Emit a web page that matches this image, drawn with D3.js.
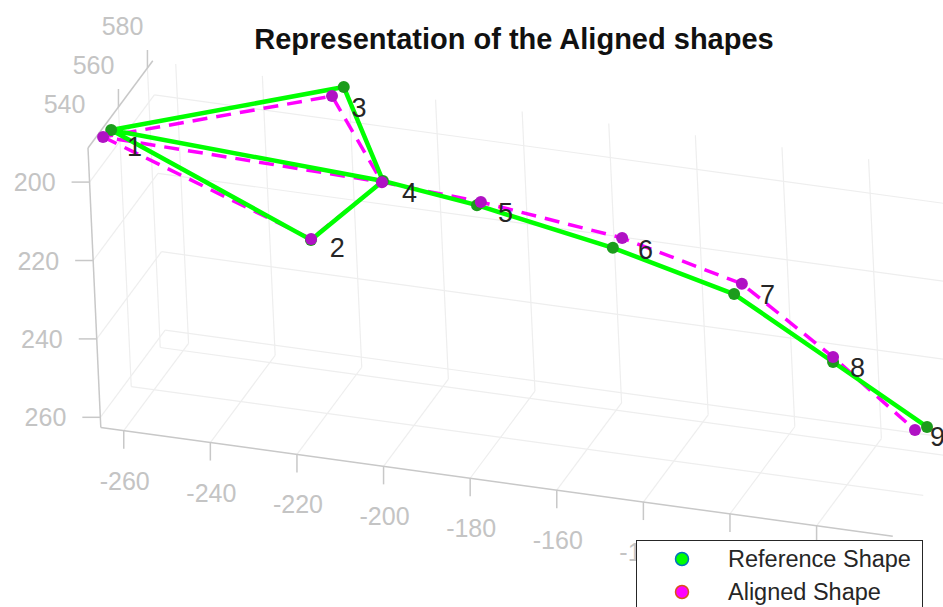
<!DOCTYPE html>
<html>
<head>
<meta charset="utf-8">
<script src="https://cdn.jsdelivr.net/npm/d3@7"></script>
<style>
    body { margin: 0; background: #fff; }
    text { font-family: "Liberation Sans", Arial, Helvetica, sans-serif; }
</style>
</head>
<body>
<svg id="chart" width="943" height="607"></svg>
<script>

// landmark labels and the two shapes (x, y, z)
var pointLabels = ["1", "2", "3", "4", "5", "6", "7", "8", "9"];

var refX = [-263.3, -218.4, -221.2, -206.4, -184.1, -151.9, -123.5, -102.3, -82.4];
var refY = [191.4, 213.1, 191.3, 203.7, 205.5, 210.0, 216.5, 232.1, 247.4];
var refZ = [529, 530, 563.7, 545, 543, 540, 538, 541, 544.5];

var alnX = [-265.3, -218.7, -222.7, -206.3, -182.8, -150.0, -122.3, -102.6, -84.7];
var alnY = [193.5, 213.4, 192.0, 203.5, 204.0, 207.7, 214.7, 231.4, 247.8];
var alnZ = [529.1, 531, 560, 544, 542, 541, 540, 542, 543];

// where the number labels sit
var txtX = [-259.8, -214.1, -219.6, -202.1, -179.3, -146.1, -117.5, -98.4, -81.8];
var txtY = [195.2, 214.5, 196.4, 206.1, 206.8, 209.6, 215.8, 233.0, 249.9];
var txtZ = [529, 530, 563.7, 545, 543, 540, 538, 541, 544.5];

// drawing order of the landmarks (1-2-4-1-3-4-5-...-9)
var pathOrder = [0, 1, 3, 0, 2, 3, 4, 5, 6, 7, 8];

var xTicks = [-260, -240, -220, -200, -180, -160, -140, -120, -100];
var yTicks = [200, 220, 240, 260];
var zTicks = [540, 560, 580];

var xLim = [-265.3, -82.4],
    yLim = [191.3, 262.6],
    zLim = [519, 563.7];

var seriesNames = ["Reference Shape", "Aligned Shape"];

var svg = d3.select("#chart");

// oblique 3d view: every axis adds its own screen offset
var origin = [88, 148];
var xsx = d3.scaleLinear().domain(xLim).range([0, 792]),
    xsy = d3.scaleLinear().domain(xLim).range([0, 108.8]),
    ysx = d3.scaleLinear().domain(yLim).range([0, 12.8]),
    ysy = d3.scaleLinear().domain(yLim).range([0, 279.5]),
    zsx = d3.scaleLinear().domain(zLim).range([0, 64.8]),
    zsy = d3.scaleLinear().domain(zLim).range([0, -87.2]);

function proj(x, y, z) {
    return [origin[0] + xsx(x) + ysx(y) + zsx(z),
            origin[1] + xsy(x) + ysy(y) + zsy(z)];
}

function inside(v, lim) { return v >= lim[0] && v <= lim[1]; }

var xIn = xTicks.filter(function(t) { return inside(t, xLim); }),
    yIn = yTicks.filter(function(t) { return inside(t, yLim); }),
    zIn = zTicks.filter(function(t) { return inside(t, zLim); });

// grid on the three back planes
var grid = [];
xIn.forEach(function(t) {
    grid.push([proj(t, yLim[0], zLim[1]), proj(t, yLim[1], zLim[1])]);
    grid.push([proj(t, yLim[1], zLim[0]), proj(t, yLim[1], zLim[1])]);
});
yIn.forEach(function(t) {
    grid.push([proj(xLim[0], t, zLim[1]), proj(xLim[1], t, zLim[1])]);
    grid.push([proj(xLim[0], t, zLim[0]), proj(xLim[0], t, zLim[1])]);
});
zIn.forEach(function(t) {
    grid.push([proj(xLim[0], yLim[0], t), proj(xLim[0], yLim[1], t)]);
    grid.push([proj(xLim[0], yLim[1], t), proj(xLim[1], yLim[1], t)]);
});

svg.append("g")
    .attr("class", "grid")
  .selectAll("line")
  .data(grid)
  .enter().append("line")
    .attr("x1", function(d) { return d[0][0]; })
    .attr("y1", function(d) { return d[0][1]; })
    .attr("x2", function(d) { return d[1][0]; })
    .attr("y2", function(d) { return d[1][1]; })
    .attr("stroke", "#eeeeee")
    .attr("stroke-width", 1.2);

// axis lines
var axisColor = "#c8c8c8",
    tickColor = "#c4c4c4",
    tickLen = 18;

var axes = svg.append("g").attr("class", "axes");
var axisLines = [
    [proj(xLim[0], yLim[1], zLim[0]), proj(xLim[1], yLim[1], zLim[0])],
    [proj(xLim[0], yLim[0], zLim[0]), proj(xLim[0], yLim[1], zLim[0])],
    [proj(xLim[0], yLim[0], zLim[0]), proj(xLim[0], yLim[0], zLim[1])]
];
axes.selectAll("line.axisline")
  .data(axisLines)
  .enter().append("line")
    .attr("class", "axisline")
    .attr("x1", function(d) { return d[0][0]; })
    .attr("y1", function(d) { return d[0][1]; })
    .attr("x2", function(d) { return d[1][0]; })
    .attr("y2", function(d) { return d[1][1]; })
    .attr("stroke", axisColor)
    .attr("stroke-width", 1.5);

// x ticks
xIn.forEach(function(t) {
    var p = proj(t, yLim[1], zLim[0]);
    axes.append("line")
        .attr("x1", p[0]).attr("y1", p[1])
        .attr("x2", p[0]).attr("y2", p[1] + tickLen)
        .attr("stroke", axisColor).attr("stroke-width", 1.5);
    axes.append("text")
        .attr("x", p[0] + 1).attr("y", p[1] + 50)
        .attr("text-anchor", "middle")
        .attr("dominant-baseline", "central")
        .attr("font-size", 25)
        .attr("fill", tickColor)
        .text(t);
});

// y ticks (reversed, growing downwards)
yIn.forEach(function(t) {
    var p = proj(xLim[0], t, zLim[0]);
    axes.append("line")
        .attr("x1", p[0]).attr("y1", p[1])
        .attr("x2", p[0] - tickLen).attr("y2", p[1])
        .attr("stroke", axisColor).attr("stroke-width", 1.5);
    axes.append("text")
        .attr("x", p[0] - 34).attr("y", p[1])
        .attr("text-anchor", "end")
        .attr("dominant-baseline", "central")
        .attr("font-size", 25)
        .attr("fill", tickColor)
        .text(t);
});

// z ticks
zTicks.forEach(function(t) {
    var p = proj(xLim[0], yLim[0], t);
    if (inside(t, zLim)) {
        axes.append("line")
            .attr("x1", p[0]).attr("y1", p[1])
            .attr("x2", p[0]).attr("y2", p[1] - tickLen)
            .attr("stroke", axisColor).attr("stroke-width", 1.5);
    }
    axes.append("text")
        .attr("x", p[0] - 33).attr("y", p[1] - 3)
        .attr("text-anchor", "end")
        .attr("dominant-baseline", "central")
        .attr("font-size", 25)
        .attr("fill", tickColor)
        .text(t);
});

// shapes
var refPts = refX.map(function(d, i) { return proj(refX[i], refY[i], refZ[i]); }),
    alnPts = alnX.map(function(d, i) { return proj(alnX[i], alnY[i], alnZ[i]); });

function shapeLine(pts) {
    return d3.line()
        .x(function(i) { return pts[i][0]; })
        .y(function(i) { return pts[i][1]; })(pathOrder);
}

var shapes = svg.append("g").attr("class", "shapes");

shapes.append("path")
    .attr("d", shapeLine(alnPts))
    .attr("fill", "none")
    .attr("stroke", "#ff00ff")
    .attr("stroke-width", 3.5)
    .attr("stroke-dasharray", "15,9")
    .attr("stroke-linejoin", "round");

shapes.append("path")
    .attr("d", shapeLine(refPts))
    .attr("fill", "none")
    .attr("stroke", "#00ff00")
    .attr("stroke-width", 4.5)
    .attr("stroke-linejoin", "round");

shapes.selectAll("circle.ref")
  .data(refPts)
  .enter().append("circle")
    .attr("class", "ref")
    .attr("cx", function(d) { return d[0]; })
    .attr("cy", function(d) { return d[1]; })
    .attr("r", 6)
    .attr("fill", "#1c9c1c");

shapes.selectAll("circle.aln")
  .data(alnPts)
  .enter().append("circle")
    .attr("class", "aln")
    .attr("cx", function(d) { return d[0]; })
    .attr("cy", function(d) { return d[1]; })
    .attr("r", 6)
    .attr("fill", "#b012c4");

shapes.selectAll("text")
  .data(pointLabels)
  .enter().append("text")
    .attr("x", function(d, i) { return proj(txtX[i], txtY[i], txtZ[i])[0]; })
    .attr("y", function(d, i) { return proj(txtX[i], txtY[i], txtZ[i])[1]; })
    .attr("dominant-baseline", "central")
    .attr("font-size", 27)
    .attr("fill", "#262626")
    .text(function(d) { return d; });

// title
svg.append("text")
    .attr("x", 514)
    .attr("y", 49)
    .attr("text-anchor", "middle")
    .attr("font-size", 29)
    .attr("font-weight", "bold")
    .attr("fill", "#111")
    .text("Representation of the Aligned shapes");

// legend
var legend = svg.append("g").attr("transform", "translate(636.5,540.5)");
legend.append("rect")
    .attr("width", 286)
    .attr("height", 90)
    .attr("fill", "#fff")
    .attr("stroke", "#262626")
    .attr("stroke-width", 1);

var legFill = ["#00ff00", "#ff00ff"],
    legEdge = ["#0072bd", "#d95319"];

seriesNames.forEach(function(name, i) {
    var y = 18.5 + i * 33;
    legend.append("circle")
        .attr("cx", 45.5).attr("cy", y)
        .attr("r", 6.5)
        .attr("fill", legFill[i])
        .attr("stroke", legEdge[i])
        .attr("stroke-width", 1.5);
    legend.append("text")
        .attr("x", 91.5).attr("y", y)
        .attr("dominant-baseline", "central")
        .attr("font-size", 23.5)
        .attr("fill", "#262626")
        .text(name);
});

</script>
</body>
</html>
